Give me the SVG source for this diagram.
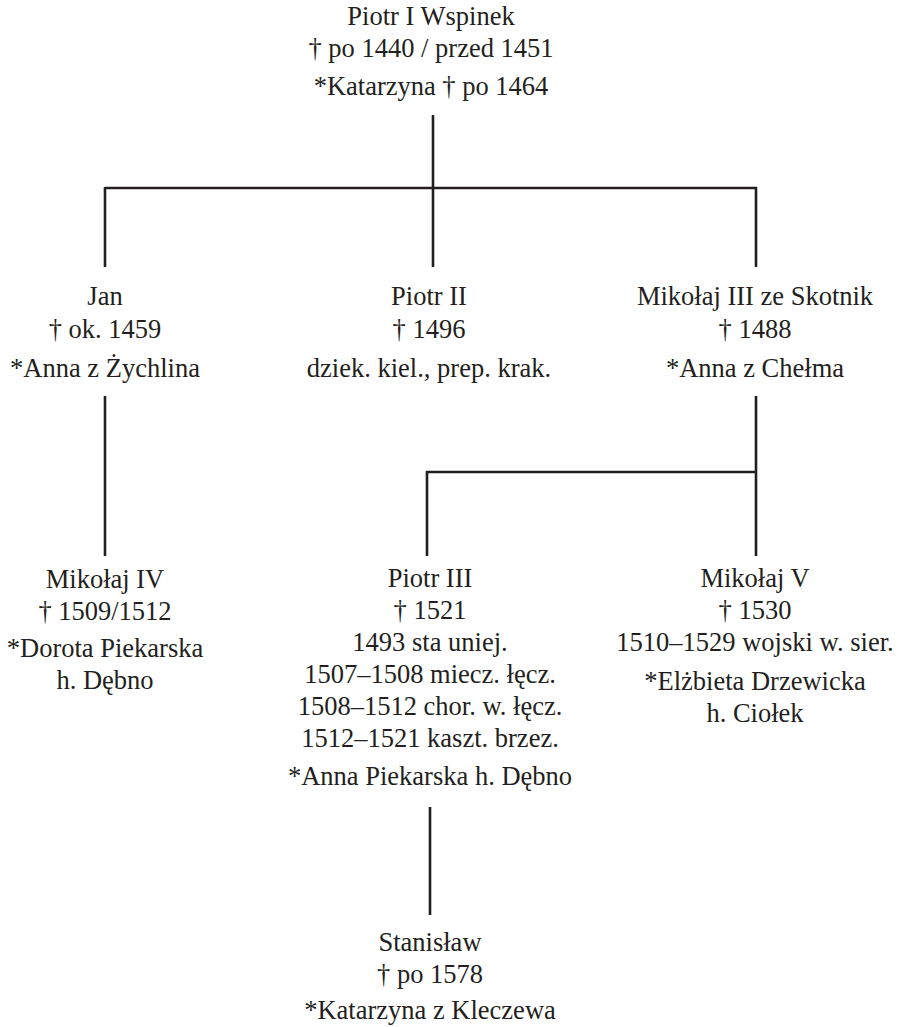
<svg xmlns="http://www.w3.org/2000/svg" width="902" height="1027" viewBox="0 0 902 1027">
<style>
text{font-family:"Liberation Serif","Times New Roman",serif;font-size:26.5px;fill:#231f20;text-anchor:middle}
.ln{stroke:#231f20;stroke-width:2.6;fill:none;stroke-linecap:butt}
</style>
<rect width="902" height="1027" fill="#ffffff"/>
<g id="connectors">
<path class="ln" d="M433 115V188M105 188H757M105 187V267M433 188V267M756 187V267"/>
<path class="ln" d="M105 396V556"/>
<path class="ln" d="M756 396V556M427 556V472H757"/>
<path class="ln" d="M430 807V915"/>
</g>
<g id="piotr1">
<text x="431" y="25">Piotr I Wspinek</text>
<text x="431" y="57">† po 1440 / przed 1451</text>
<text x="431" y="95">*Katarzyna † po 1464</text>
</g>
<g id="jan">
<text x="105" y="305">Jan</text>
<text x="105" y="338">† ok. 1459</text>
<text x="105" y="377">*Anna z Żychlina</text>
</g>
<g id="piotr2">
<text x="429" y="305">Piotr II</text>
<text x="429" y="338">† 1496</text>
<text x="429" y="377">dziek. kiel., prep. krak.</text>
</g>
<g id="mikolaj3">
<text x="755" y="305">Mikołaj III ze Skotnik</text>
<text x="755" y="338">† 1488</text>
<text x="755" y="377">*Anna z Chełma</text>
</g>
<g id="mikolaj4">
<text x="105" y="588">Mikołaj IV</text>
<text x="105" y="620">† 1509/1512</text>
<text x="105" y="657">*Dorota Piekarska</text>
<text x="105" y="689">h. Dębno</text>
</g>
<g id="piotr3">
<text x="430" y="587">Piotr III</text>
<text x="430" y="619">† 1521</text>
<text x="430" y="651">1493 sta uniej.</text>
<text x="430" y="683">1507–1508 miecz. łęcz.</text>
<text x="430" y="715">1508–1512 chor. w. łęcz.</text>
<text x="430" y="747">1512–1521 kaszt. brzez.</text>
<text x="430" y="785">*Anna Piekarska h. Dębno</text>
</g>
<g id="mikolaj5">
<text x="755" y="587">Mikołaj V</text>
<text x="755" y="619">† 1530</text>
<text x="755" y="651">1510–1529 wojski w. sier.</text>
<text x="755" y="690">*Elżbieta Drzewicka</text>
<text x="755" y="722">h. Ciołek</text>
</g>
<g id="stanislaw">
<text x="430" y="951">Stanisław</text>
<text x="430" y="983">† po 1578</text>
<text x="430" y="1019">*Katarzyna z Kleczewa</text>
</g>
</svg>
